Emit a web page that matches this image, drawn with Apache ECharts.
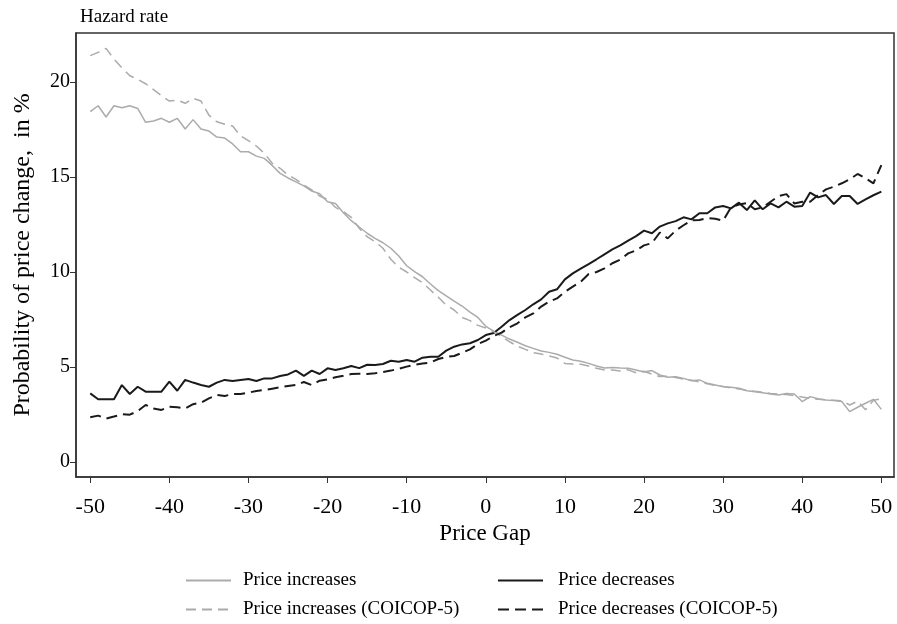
<!DOCTYPE html>
<html>
<head>
<meta charset="utf-8">
<script src="https://cdn.jsdelivr.net/npm/echarts@6/dist/echarts.min.js"></script>
<style>
html,body{margin:0;padding:0;background:#fff;}
#main{width:897px;height:624px;}
</style>
</head>
<body>
<div id="main"></div>
<script>
// price gap grid (x categories)
var priceGap = [-50,-49,-48,-47,-46,-45,-44,-43,-42,-41,-40,-39,-38,-37,-36,-35,-34,-33,-32,-31,
  -30,-29,-28,-27,-26,-25,-24,-23,-22,-21,-20,-19,-18,-17,-16,-15,-14,-13,-12,-11,
  -10,-9,-8,-7,-6,-5,-4,-3,-2,-1,0,1,2,3,4,5,6,7,8,9,
  10,11,12,13,14,15,16,17,18,19,20,21,22,23,24,25,26,27,28,29,
  30,31,32,33,34,35,36,37,38,39,40,41,42,43,44,45,46,47,48,49,50];

var increases = [18.44,18.75,18.16,18.75,18.65,18.75,18.61,17.88,17.95,18.09,17.88,18.09,17.53,18.02,17.53,17.42,17.1,17.05,
  16.74,16.33,16.33,16.1,15.98,15.61,15.19,14.95,14.74,14.53,14.26,14.12,13.7,13.61,13.12,12.7,12.37,
  12.04,11.77,11.54,11.25,10.84,10.33,10.02,9.75,9.37,9.02,8.74,8.47,8.21,7.89,7.61,7.14,
  6.89,6.68,6.47,6.3,6.12,5.98,5.84,5.77,5.67,5.51,5.37,5.3,5.19,5.05,4.95,4.98,4.95,
  4.93,4.84,4.74,4.81,4.58,4.46,4.49,4.4,4.28,4.32,4.14,4.05,3.96,3.93,3.88,3.75,3.7,
  3.65,3.58,3.53,3.61,3.58,3.18,3.44,3.33,3.26,3.23,3.18,2.65,2.88,3.09,3.3,2.77];

var increasesCoicop = [21.39,21.56,21.77,21.21,20.75,20.33,20.14,19.91,19.6,19.28,19.0,19.05,18.88,19.14,19.0,18.26,17.91,17.78,
  17.68,17.16,16.91,16.63,16.25,15.72,15.46,15.1,14.88,14.58,14.32,14.0,13.82,13.4,13.18,12.88,12.3,
  11.86,11.6,11.25,10.67,10.25,10.0,9.7,9.44,9.05,8.67,8.26,8.0,7.61,7.44,7.19,7.05,
  6.86,6.6,6.33,6.1,5.93,5.75,5.68,5.58,5.47,5.19,5.16,5.14,5.05,4.93,4.84,4.84,4.79,
  4.85,4.7,4.78,4.62,4.5,4.52,4.45,4.36,4.3,4.22,4.12,4.03,3.98,3.9,3.84,3.78,3.72,
  3.68,3.6,3.57,3.55,3.5,3.42,3.35,3.3,3.28,3.25,3.22,3.0,3.2,2.75,3.25,3.32];

var decreases = [3.61,3.3,3.3,3.3,4.05,3.58,3.96,3.7,3.7,3.7,4.23,3.75,4.32,4.18,4.05,3.96,4.18,4.32,
  4.26,4.32,4.37,4.26,4.4,4.4,4.53,4.61,4.81,4.53,4.81,4.63,4.93,4.84,4.93,5.05,4.94,
  5.12,5.11,5.16,5.33,5.28,5.37,5.28,5.49,5.54,5.54,5.86,6.07,6.19,6.25,6.42,6.68,
  6.79,7.12,7.47,7.74,8.0,8.3,8.56,8.96,9.09,9.61,9.93,10.18,10.42,10.67,10.93,11.19,11.4,
  11.65,11.89,12.18,12.04,12.39,12.56,12.68,12.88,12.77,13.09,13.09,13.4,13.47,13.35,13.65,13.26,13.77,
  13.3,13.61,13.4,13.7,13.44,13.47,14.18,13.93,14.05,13.58,14.0,14.0,13.58,13.82,14.04,14.23];

var decreasesCoicop = [2.35,2.44,2.28,2.39,2.51,2.49,2.68,3.0,2.82,2.74,2.91,2.88,2.82,3.04,3.12,3.35,3.53,3.47,
  3.58,3.58,3.65,3.74,3.79,3.86,3.93,4.0,4.05,4.21,4.05,4.28,4.35,4.46,4.54,4.63,4.65,
  4.63,4.67,4.74,4.81,4.91,5.02,5.11,5.18,5.23,5.42,5.53,5.58,5.75,5.93,6.21,6.39,
  6.63,6.81,7.09,7.3,7.61,7.82,8.18,8.44,8.61,8.96,9.23,9.49,9.89,10.0,10.19,10.46,10.65,
  10.98,11.14,11.4,11.52,12.08,11.77,12.18,12.46,12.72,12.74,12.84,12.8,12.7,13.4,13.55,13.63,13.3,
  13.4,13.7,14.0,14.1,13.61,13.7,13.7,14.05,14.35,14.49,14.67,14.88,15.16,14.93,14.67,15.63];

var xTicks = [-50,-40,-30,-20,-10,0,10,20,30,40,50];
var yTicks = [0,5,10,15,20];

function pairs(vals){
  return priceGap.map(function(g,i){ return [g, vals[i]]; });
}

var myChart = echarts.init(document.getElementById('main'));
var font = 'Liberation Serif';
var gray = '#ababab';
var dark = '#1a1a1a';

var legendBase = {
  top: 566, orient: 'vertical', itemGap: 10,
  itemWidth: 45, itemHeight: 14,
  itemStyle: {opacity: 0}
};

var option = {
  backgroundColor: '#fff',
  textStyle: {fontFamily: font, color: '#000'},
  title: {
    text: 'Hazard rate',
    left: 75, top: 3,
    textStyle: {fontFamily: font, fontSize: 19, fontWeight: 'normal', color: '#000'}
  },
  grid: {
    left: 76, right: 3, top: 33, bottom: 147,
    show: true, borderColor: '#333', borderWidth: 1.5
  },
  legend: [
    Object.assign({}, legendBase, {
      left: 180,
      textStyle: {fontFamily: font, fontSize: 19, color: '#000', padding: [0,0,0,7]},
      data: ['Price increases', 'Price increases (COICOP-5)']
    }),
    Object.assign({}, legendBase, {
      left: 492,
      textStyle: {fontFamily: font, fontSize: 19, color: '#000', padding: [0,0,0,10]},
      data: ['Price decreases', 'Price decreases (COICOP-5)']
    })
  ],
  xAxis: {
    type: 'value', min: -51.8, max: 51.6,
    name: 'Price Gap', nameLocation: 'middle', nameGap: 44,
    nameTextStyle: {fontFamily: font, fontSize: 23, color: '#000'},
    axisLine: {show: true, onZero: false, lineStyle: {color: '#333', width: 1.5}},
    axisTick: {show: true, length: 6, customValues: xTicks, lineStyle: {color: '#333'}},
    axisLabel: {customValues: xTicks, fontFamily: font, fontSize: 22, color: '#000', margin: 19},
    splitLine: {show: false}
  },
  yAxis: {
    type: 'value', min: -0.79, max: 22.58,
    name: 'Probability of price change,  in %', nameLocation: 'middle', nameGap: 41,
    nameTextStyle: {fontFamily: font, fontSize: 24, color: '#000'},
    axisLine: {show: true, onZero: false, lineStyle: {color: '#333', width: 1.5}},
    axisTick: {show: true, length: 6, customValues: yTicks, lineStyle: {color: '#333'}},
    axisLabel: {customValues: yTicks, fontFamily: font, fontSize: 20, color: '#000', margin: 6},
    splitLine: {show: false}
  },
  series: [{
    name: 'Price increases', type: 'line', symbol: 'none',
    lineStyle: {color: gray, width: 1.5}, itemStyle: {color: gray},
    data: pairs(increases)
  }, {
    name: 'Price decreases', type: 'line', symbol: 'none',
    lineStyle: {color: dark, width: 2}, itemStyle: {color: dark},
    data: pairs(decreases)
  }, {
    name: 'Price increases (COICOP-5)', type: 'line', symbol: 'none',
    lineStyle: {color: gray, width: 1.5, type: [10, 6]}, itemStyle: {color: gray},
    data: pairs(increasesCoicop)
  }, {
    name: 'Price decreases (COICOP-5)', type: 'line', symbol: 'none',
    lineStyle: {color: dark, width: 2, type: [11, 6]}, itemStyle: {color: dark},
    data: pairs(decreasesCoicop)
  }]
};
myChart.setOption(option);
</script>
</body>
</html>
